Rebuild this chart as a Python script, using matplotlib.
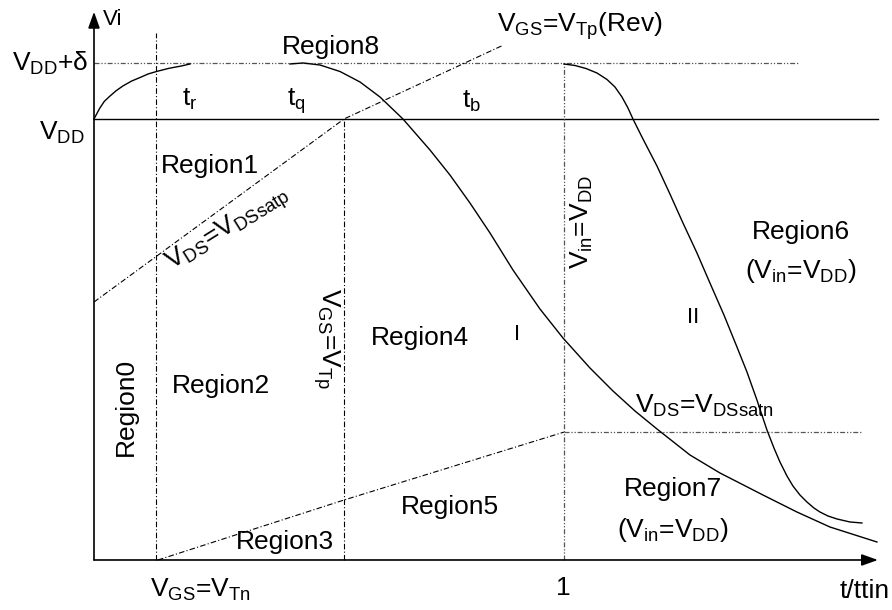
import matplotlib
matplotlib.use("Agg")
import matplotlib.pyplot as plt

plt.rcParams['font.family'] = ['Liberation Sans', 'DejaVu Sans']
plt.rcParams['mathtext.fontset'] = 'custom'
plt.rcParams['mathtext.rm'] = 'Liberation Sans'
plt.rcParams['mathtext.it'] = 'Liberation Sans:italic'
plt.rcParams['mathtext.bf'] = 'Liberation Sans:bold'

# Voltage levels (normalised to VDD) and time marks (normalised to ttin)
V_DD = 1.0
V_DD_DELTA = 1.127
T_TN = 0.132
T_TP = 0.532
T_IN = 1.0
X_END = 1.668
Y_END = 1.243

# Region boundaries
satp_t = [0.0, 0.532, 0.868]
satp_v = [0.585, 1.0, 1.166]
satn_t = [0.136, 0.532, 1.0, 1.634]
satn_v = [0.0, 0.136, 0.290, 0.290]

# Overshoot rise of the output
rise_t = [0.0, 0.005, 0.012, 0.022, 0.034, 0.047, 0.0617, 0.080, 0.0979,
          0.115, 0.134, 0.160, 0.185, 0.2043]
rise_v = [1.0, 1.010, 1.024, 1.040, 1.052, 1.064, 1.075, 1.086, 1.094,
          1.102, 1.108, 1.115, 1.120, 1.1247]

# Trajectory I
traj1_t = [0.4170, 0.4447, 0.4809, 0.5234, 0.5660, 0.6085, 0.6574, 0.7149,
           0.7574, 0.8000, 0.8426, 0.8915, 0.9489, 0.9979, 1.0553, 1.1043,
           1.1511, 1.1979, 1.2681, 1.3319, 1.4234, 1.4957, 1.5660, 1.6660]
traj1_v = [1.1247, 1.1270, 1.1224, 1.1077, 1.0839, 1.0499, 1.0000, 0.9297,
           0.8730, 0.8095, 0.7415, 0.6576, 0.5692, 0.5034, 0.4354, 0.3832,
           0.3379, 0.2971, 0.2381, 0.1973, 0.1474, 0.1088, 0.0748, 0.0408]

# Trajectory II
traj2_t = [1.0000, 1.0234, 1.0468, 1.0702, 1.0915, 1.1085, 1.1234, 1.1362,
           1.1468, 1.1681, 1.1979, 1.2255, 1.2532, 1.2830, 1.3106, 1.3404,
           1.3681, 1.3894, 1.4106, 1.4319, 1.4468, 1.4596, 1.4745, 1.4872,
           1.5021, 1.5170, 1.5319, 1.5447, 1.5617, 1.5809, 1.6085, 1.6340]
traj2_v = [1.1247, 1.1213, 1.1145, 1.1043, 1.0896, 1.0726, 1.0499, 1.0249,
           1.0000, 0.9546, 0.8934, 0.8299, 0.7642, 0.6961, 0.6281, 0.5556,
           0.4830, 0.4263, 0.3628, 0.2948, 0.2540, 0.2222, 0.1905, 0.1678,
           0.1474, 0.1315, 0.1179, 0.1088, 0.0998, 0.0930, 0.0862, 0.0839]

fig = plt.figure(figsize=(8.92, 6.10), dpi=100)
ax = fig.add_axes([0, 0, 1, 1])
ax.set_xlim(-0.2, 1.698)
ax.set_ylim(-0.1134, 1.2698)
ax.axis('off')

dashdot = (0, (5, 2, 1, 2))
dashdot2 = (0, (4, 1.5, 1, 1.5, 1, 1.5))
grey = '#555555'

# Axes with arrows
arrow = dict(arrowstyle='-|>,head_length=0.7,head_width=0.25', lw=1.2,
             color='black', mutation_scale=14, shrinkA=0, shrinkB=0)
ax.annotate('', xy=(0, Y_END), xytext=(0, 0), arrowprops=arrow)
ax.annotate('', xy=(X_END, 0), xytext=(0, 0), arrowprops=arrow)

# VDD level and VDD+delta level
ax.plot([0, X_END], [V_DD, V_DD], color='black', lw=1.0)
ax.plot([0, 1.498], [V_DD_DELTA, V_DD_DELTA], color=grey, lw=0.9, ls=dashdot2)

# Vertical boundaries
ax.plot([T_TN, T_TN], [0, 1.195], color='black', lw=0.8, ls=dashdot)
ax.plot([T_TP, T_TP], [0, V_DD], color='black', lw=0.8, ls=dashdot)
ax.plot([T_IN, T_IN], [0, V_DD_DELTA], color=grey, lw=0.9, ls=dashdot2)

# Saturation boundaries
ax.plot(satp_t, satp_v, color='black', lw=0.8, ls=dashdot)
ax.plot(satn_t[:3], satn_v[:3], color='black', lw=0.8, ls=dashdot)
ax.plot(satn_t[2:], satn_v[2:], color=grey, lw=0.9, ls=dashdot2)

# Output trajectories
ax.plot(rise_t, rise_v, color='black', lw=1.0)
ax.plot(traj1_t, traj1_v, color='black', lw=1.0)
ax.plot(traj2_t, traj2_v, color='black', lw=1.0)

fs = 19
def label(x, y, s, size=fs, rot=0, ha='center', va='center'):
    ax.text(x, y, s, fontsize=size, rotation=rot, ha=ha, va=va,
            rotation_mode='anchor')

label(0.019, 1.2245, 'Vi', size=16, ha='left')
label(-0.012, V_DD_DELTA, r'V$_{\mathrm{DD}}$+δ', ha='right')
label(-0.019, 0.968, r'V$_{\mathrm{DD}}$', ha='right')
label(0.204, 1.045, r't$_{\mathrm{r}}$')
label(0.430, 1.040, r't$_{\mathrm{q}}$')
label(0.804, 1.040, r't$_{\mathrm{b}}$')
label(0.504, 1.163, 'Region8')
label(1.034, 1.210, r'V$_{\mathrm{GS}}$=V$_{\mathrm{Tp}}$(Rev)')
label(0.247, 0.893, 'Region1')
label(0.285, 0.750, r'V$_{\mathrm{DS}}$=V$_{\mathrm{DSsatp}}$', rot=32)
label(0.494, 0.501, r'V$_{\mathrm{GS}}$=V$_{\mathrm{Tp}}$', rot=270)
label(0.694, 0.503, 'Region4')
label(0.900, 0.512, 'I', size=16)
label(1.038, 0.766, r'V$_{\mathrm{in}}$=V$_{\mathrm{DD}}$', rot=90)
label(1.504, 0.744, 'Region6')
label(1.504, 0.656, r'(V$_{\mathrm{in}}$=V$_{\mathrm{DD}}$)')
label(1.274, 0.549, 'II', size=16)
label(0.270, 0.395, 'Region2')
label(0.068, 0.347, 'Region0', rot=90)
label(0.406, 0.041, 'Region3')
label(0.226, -0.068, r'V$_{\mathrm{GS}}$=V$_{\mathrm{Tn}}$')
label(0.757, 0.120, 'Region5')
label(1.232, 0.161, 'Region7')
label(1.232, 0.068, r'(V$_{\mathrm{in}}$=V$_{\mathrm{DD}}$)')
label(1.298, 0.349, r'V$_{\mathrm{DS}}$=V$_{\mathrm{DSsatn}}$')
label(0.998, -0.063, '1')
label(1.640, -0.070, 't/ttin')

fig.savefig('out.png', dpi=100)
